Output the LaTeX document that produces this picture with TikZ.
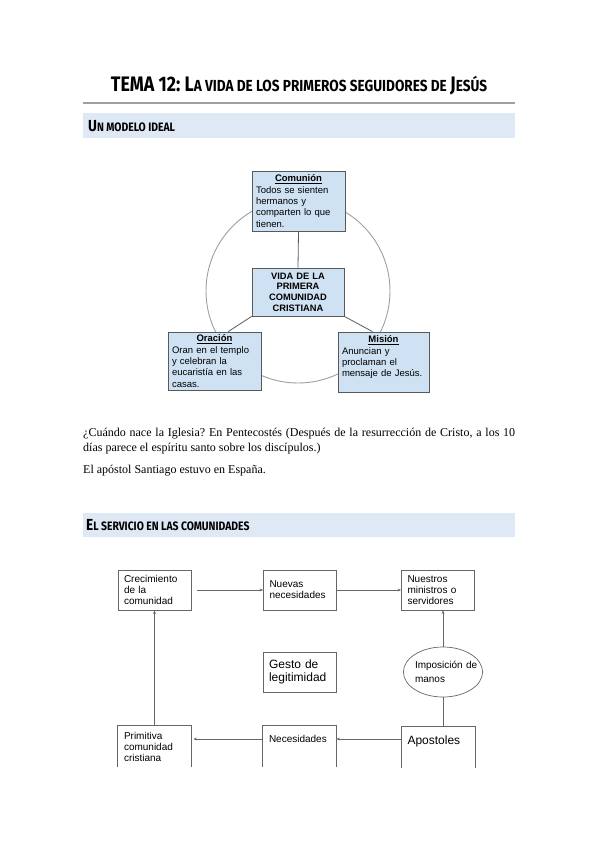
\documentclass[tikz,border=0pt]{standalone}
\usepackage{fontspec}
\setmainfont{Liberation Serif}
\setsansfont{Liberation Sans}
\newfontfamily\headfont{Fira Sans}[FakeStretch=0.85]
\usetikzlibrary{arrows.meta,positioning,shapes.geometric}
\frenchspacing

\definecolor{bandblue}{HTML}{DFE9F5}
\definecolor{boxblue}{HTML}{CFE2F3}
\definecolor{boxline}{HTML}{595959}
\definecolor{ringgray}{HTML}{9E9E9E}
\definecolor{flowline}{HTML}{666666}

\newcommand\titlebig{\fontsize{21}{24}\selectfont}
\newcommand\titlesmall{\fontsize{16}{18}\selectfont}
\newcommand\headbig{\fontsize{16}{18}\selectfont}
\newcommand\headsmall{\fontsize{12.2}{14}\selectfont}

\begin{document}
\begin{tikzpicture}
    [x=1pt,y=-1pt,
    idea/.style={rectangle,draw=boxline,fill=boxblue,line width=0.8pt,
    inner xsep=4pt,inner ysep=1.5pt,minimum width=93pt,text width=85pt,align=left,
    font=\sffamily\fontsize{9.5}{11.3}\selectfont},
    spoke/.style={draw=boxline,line width=0.8pt},
    flow/.style={rectangle,draw=flowline,line width=0.7pt,
    inner xsep=6pt,inner ysep=4pt,minimum width=73pt,minimum height=40pt,text width=61pt,
    align=left,font=\sffamily\fontsize{10}{11}\selectfont},
    openbox/.style={flow,draw=none,minimum height=41pt},
    arrow/.style={draw=flowline,line width=0.6pt,-{Stealth[length=3.5pt,width=2.8pt]}},
    link/.style={draw=flowline,line width=0.6pt},
    band/.style={fill=bandblue},
    body/.style={inner sep=0pt,font=\fontsize{12}{15}\selectfont}]
    \useasboundingbox (0,0) rectangle (599,848);

    % title and first heading
    \node (title) at (299,86)
        {\headfont\bfseries\titlebig TEMA 12: L\titlesmall A VIDA DE LOS PRIMEROS SEGUIDORES DE \titlebig J\titlesmall ESÚS};
    \draw[gray!75,line width=1.2pt] (83,103) -- (515,103);
    \fill[band] (83,113) rectangle (515,138);
    \node[anchor=west,inner sep=0pt] (modelo) at (88,126)
        {\headfont\bfseries\headbig U\headsmall N MODELO IDEAL};

    % un modelo ideal
    \draw[ringgray,line width=0.9pt] (298,291) circle[radius=92pt];
    \node[idea,minimum height=60pt] (comunion) at (298.5,201)
        {\makebox[\linewidth]{\underline{\textbf{Comunión}}}\\Todos se sienten\\hermanos y\\comparten lo que\\tienen.};
    \node[idea,minimum width=90pt,minimum height=48pt,text width=84pt,align=center,
        font=\sffamily\bfseries\fontsize{9.3}{10.6}\selectfont] (central) at (298,292)
        {VIDA DE LA\\PRIMERA\\COMUNIDAD\\CRISTIANA};
    \node[idea,minimum height=58pt] (oracion) at (214.5,361)
        {\makebox[\linewidth]{\underline{\textbf{Oración}}}\\Oran en el templo\\y celebran la\\eucaristía en las\\casas.};
    \node[idea,minimum width=91pt,text width=83pt,minimum height=60pt] (mision) at (383.5,362)
        {\makebox[\linewidth]{\underline{\textbf{Misión}}}\\Anuncian y\\proclaman el\\mensaje de Jesús.\\\mbox{}};
    \draw[spoke] (central.north) -- (comunion.south);
    \draw[spoke] (central.south west) -- (oracion.65);
    \draw[spoke] (central.south east) -- (mision.110);

    % text
    \node[body,anchor=north west,text width=432pt,align=justify] (pregunta) at (83,428)
        {¿Cuándo nace la Iglesia? En Pentecostés (Después de la resurrección de Cristo, a los 10\linebreak días parece el espíritu santo sobre los discípulos.)};
    \node[body,anchor=north west] (santiago) at (83,465)
        {El apóstol Santiago estuvo en España.};

    % second heading
    \fill[band] (83,513) rectangle (515,537);
    \node[anchor=west,inner sep=0pt] (servicio) at (86,525)
        {\headfont\bfseries\headbig E\headsmall L SERVICIO EN LAS COMUNIDADES};

    % el servicio en las comunidades
    \node[flow] (crecimiento) at (154.5,590) {Crecimiento\\de la\\comunidad};
    \node[flow] (nuevas) at (300,590) {Nuevas\\necesidades};
    \node[flow] (nuestros) at (438,590) {Nuestros\\ministros o\\servidores};
    \node[flow,font=\sffamily\fontsize{12}{13.5}\selectfont] (gesto) at (299.5,672)
        {Gesto de\\legitimidad};
    \node[ellipse,draw=flowline,line width=0.7pt,inner sep=0pt,minimum width=79pt,
        minimum height=50pt,text width=56pt,align=left,
        font=\sffamily\fontsize{10}{14}\selectfont] (imposicion) at (443,672)
        {\mbox{Imposición de}\\manos};
    \node[openbox] (primitiva) at (154.5,746.5) {Primitiva\\comunidad\\cristiana};
    \node[openbox,text height=12.5pt,text depth=20.5pt] (necesidades) at (299.5,746.5) {Necesidades};
    \node[openbox,text height=13.5pt,text depth=19.5pt,font=\sffamily\fontsize{12}{14}\selectfont]
        (apostoles) at (438,747) {Apostoles};
    \foreach \b in {primitiva,necesidades,apostoles}
        \draw[link,line width=0.7pt] (\b.south west) |- (\b.north east) -- (\b.south east);

    \draw[arrow,shorten <=6pt] (crecimiento) -- (nuevas);
    \draw[arrow] (nuevas) -- (nuestros);
    \draw[arrow] (imposicion.north) -- (imposicion.north |- nuestros.south);
    \draw[link] (imposicion.south) -- (imposicion.south |- apostoles.north);
    \draw[arrow] ([yshift=8pt]apostoles.west) -- ([yshift=8pt]apostoles.west -| necesidades.east);
    \draw[arrow,shorten >=2pt] ([yshift=7.5pt]necesidades.west) -- ([yshift=7.5pt]necesidades.west -| primitiva.east);
    \draw[arrow] (primitiva) -- (crecimiento);
\end{tikzpicture}
\end{document}
